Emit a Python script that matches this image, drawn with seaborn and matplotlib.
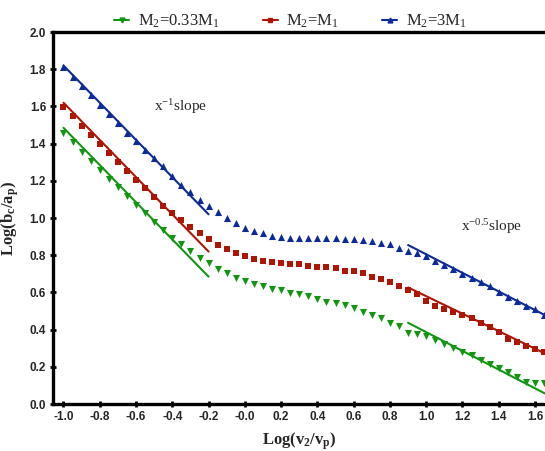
import matplotlib
matplotlib.use("Agg")
import matplotlib.pyplot as plt
from matplotlib.lines import Line2D
import numpy as np
import pandas as pd
import seaborn as sns

# log(v2/vp) sample positions
log_v = [round(-1.0 + 0.05 * i, 2) for i in range(54)]

y_low = [1.459, 1.407, 1.356, 1.306, 1.258, 1.210, 1.165, 1.118, 1.070, 1.025,
         0.980, 0.937, 0.892, 0.858, 0.823, 0.787, 0.756, 0.727, 0.703, 0.679,
         0.663, 0.647, 0.633, 0.620, 0.611, 0.599, 0.591, 0.582, 0.563, 0.547,
         0.545, 0.531, 0.516, 0.496, 0.480, 0.464, 0.437, 0.421, 0.383, 0.376,
         0.366, 0.344, 0.321, 0.303, 0.281, 0.263, 0.237, 0.215, 0.192, 0.174,
         0.147, 0.120, 0.115, 0.115]
y_equal = [1.595, 1.547, 1.493, 1.445, 1.396, 1.348, 1.300, 1.251, 1.203, 1.160,
           1.111, 1.066, 1.025, 0.988, 0.950, 0.918, 0.885, 0.853, 0.832, 0.810,
           0.794, 0.778, 0.767, 0.762, 0.757, 0.751, 0.751, 0.741, 0.735, 0.735,
           0.730, 0.715, 0.715, 0.703, 0.681, 0.670, 0.654, 0.633, 0.611, 0.590,
           0.552, 0.527, 0.509, 0.496, 0.478, 0.461, 0.434, 0.412, 0.385, 0.348,
           0.335, 0.312, 0.294, 0.281]
y_high = [1.810, 1.756, 1.711, 1.661, 1.609, 1.559, 1.509, 1.459, 1.414, 1.366,
          1.324, 1.278, 1.226, 1.180, 1.138, 1.097, 1.065, 1.031, 0.998, 0.972,
          0.948, 0.930, 0.918, 0.905, 0.896, 0.894, 0.894, 0.891, 0.891, 0.891,
          0.891, 0.889, 0.885, 0.882, 0.876, 0.864, 0.859, 0.837, 0.824, 0.810,
          0.797, 0.769, 0.747, 0.724, 0.699, 0.676, 0.657, 0.636, 0.600, 0.575,
          0.554, 0.527, 0.512, 0.478]

labels = [r"M$_\mathrm{2}$=0.33M$_\mathrm{1}$", r"M$_\mathrm{2}$=M$_\mathrm{1}$",
          r"M$_\mathrm{2}$=3M$_\mathrm{1}$"]
colors = ["#129612", "#ad1604", "#0c2a98"]
markers = ["v", "s", "^"]

# power-law guide lines (slope -1 and slope -0.5)
fit1_x = [-1.0, -0.2]
fit1_y = [[1.485, 0.685], [1.62, 0.82], [1.82, 1.02]]
fit2_x = [0.9, 1.655]
fit2_y = [[0.437, 0.057], [0.627, 0.272], [0.855, 0.478]]

df = pd.DataFrame({
    "x": log_v * 3,
    "y": y_low + y_equal + y_high,
    "series": [labels[0]] * 54 + [labels[1]] * 54 + [labels[2]] * 54,
})

sns.set_style("ticks")
plt.rcParams.update({
    "mathtext.fontset": "custom",
    "mathtext.rm": "Liberation Serif",
    "mathtext.it": "Liberation Serif:italic",
    "mathtext.bf": "Liberation Serif:bold",
})

fig = plt.figure(figsize=(5.45, 4.51), dpi=100)
ax = fig.add_axes([0.0972, 0.104, 0.9028, 0.825])

for i, lab in enumerate(labels):
    sub = df[df["series"] == lab]
    sns.scatterplot(data=sub, x="x", y="y", marker=markers[i], color=colors[i],
                    s=22 if markers[i] == "s" else 26, linewidth=0, ax=ax, legend=False)
    sns.lineplot(x=fit1_x, y=fit1_y[i], color=colors[i], lw=1.5, ax=ax)
    sns.lineplot(x=fit2_x, y=fit2_y[i], color=colors[i], lw=1.5, ax=ax)

ax.set_xlim(-1.058, 1.655)
ax.set_ylim(0, 2.0)
ax.set_xticks(np.arange(-1.0, 1.61, 0.2))
ax.set_yticks(np.arange(0, 2.01, 0.2))
ax.xaxis.set_major_formatter(matplotlib.ticker.FormatStrFormatter("%.1f"))
ax.yaxis.set_major_formatter(matplotlib.ticker.FormatStrFormatter("%.1f"))
for lbl in ax.get_xticklabels() + ax.get_yticklabels():
    lbl.set_fontfamily("Liberation Sans")
    lbl.set_fontweight("bold")
    lbl.set_fontsize(8.5)
ax.tick_params(direction="inout", length=4, width=2, color="black", pad=3)

for side in ["left", "bottom", "top"]:
    ax.spines[side].set_linewidth(2.4)
    ax.spines[side].set_color("black")
ax.spines["right"].set_visible(False)

ax.set_xlabel(r"Log(v$_\mathbf{2}$/v$_\mathbf{p}$)", fontfamily="Liberation Serif",
              fontweight="bold", fontsize=12, labelpad=5)
ax.set_ylabel(r"Log(b$_\mathbf{c}$/a$_\mathbf{p}$)", fontfamily="Liberation Serif",
              fontweight="bold", fontsize=12, labelpad=6)

ax.text(-0.5, 1.60, r"x$^\mathrm{-1}$slope", fontfamily="Liberation Serif",
        fontsize=11, va="center")
ax.text(1.19, 0.957, r"x$^\mathrm{-0.5}$slope", fontfamily="Liberation Serif",
        fontsize=11, va="center")

handles = [Line2D([0], [0], color=c, marker=m, markersize=3.5, lw=1.5)
           for c, m in zip(colors, markers)]
fig.legend(handles, labels, loc="upper center", bbox_to_anchor=(0.533, 1.005),
           ncol=3, frameon=False, handlelength=0.9, handletextpad=0.5,
           columnspacing=2.6, prop={"family": "Liberation Serif", "size": 12})

fig.savefig("out.png", dpi=100)
